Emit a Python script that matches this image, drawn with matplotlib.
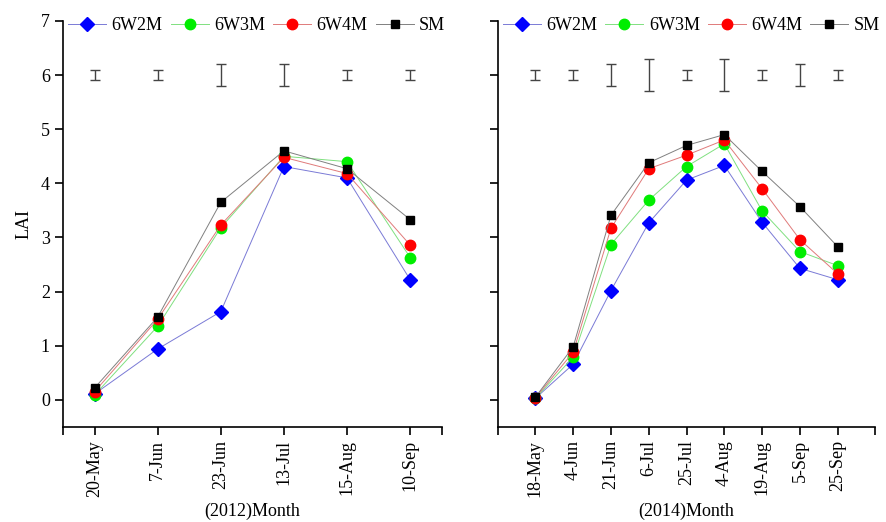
import numpy as np
import matplotlib.pyplot as plt

plt.rcParams['font.family'] = ['Liberation Serif', 'DejaVu Serif']

# 2012 season
dates_2012 = ['20-May', '7-Jun', '23-Jun', '13-Jul', '15-Aug', '10-Sep']
w2m_2012 = [0.11, 0.94, 1.63, 4.31, 4.10, 2.22]
w3m_2012 = [0.09, 1.36, 3.18, 4.50, 4.40, 2.63]
w4m_2012 = [0.15, 1.49, 3.23, 4.48, 4.18, 2.86]
sm_2012 = [0.22, 1.53, 3.65, 4.60, 4.27, 3.33]
err_2012 = [0.1, 0.1, 0.2, 0.2, 0.1, 0.1]

# 2014 season
dates_2014 = ['18-May', '4-Jun', '21-Jun', '6-Jul', '25-Jul', '4-Aug', '19-Aug', '5-Sep', '25-Sep']
w2m_2014 = [0.03, 0.66, 2.02, 3.27, 4.06, 4.33, 3.28, 2.43, 2.22]
w3m_2014 = [0.03, 0.79, 2.87, 3.69, 4.31, 4.73, 3.49, 2.74, 2.48]
w4m_2014 = [0.04, 0.88, 3.17, 4.27, 4.52, 4.80, 3.90, 2.96, 2.33]
sm_2014 = [0.05, 0.98, 3.41, 4.38, 4.70, 4.90, 4.22, 3.57, 2.83]
err_2014 = [0.1, 0.1, 0.2, 0.3, 0.1, 0.3, 0.1, 0.2, 0.1]

labels = ['6W2M', '6W3M', '6W4M', 'SM']
styles = [
    dict(color='#7a7ad6', marker='D', mfc='#0000ff', mec='#0000ff', ms=7),
    dict(color='#80e080', marker='o', mfc='#00ee00', mec='#00ee00', ms=7.5),
    dict(color='#e07a7a', marker='o', mfc='#ff0000', mec='#ff0000', ms=7.5),
    dict(color='#808080', marker='s', mfc='#000000', mec='#000000', ms=6),
]

fig = plt.figure(figsize=(8.87, 5.22), dpi=100)
ax1 = fig.add_axes([0.071, 0.182, 0.427, 0.778])
ax2 = fig.add_axes([0.561, 0.182, 0.426, 0.778])

panels = [
    (ax1, dates_2012, [w2m_2012, w3m_2012, w4m_2012, sm_2012], err_2012, '(2012)Month'),
    (ax2, dates_2014, [w2m_2014, w3m_2014, w4m_2014, sm_2014], err_2014, '(2014)Month'),
]

for ax, dates, series, err, xlab in panels:
    x = np.arange(1, len(dates) + 1)
    for vals, lab, st in zip(series, labels, styles):
        ax.plot(x, vals, lw=0.7, label=lab, **st)
    # error bar scale at y = 6
    ax.errorbar(x, [6] * len(x), yerr=err, fmt='none', ecolor='#444444',
                elinewidth=1.0, capsize=3.5, capthick=1.0)

    if len(dates) == 6:
        ax.set_xlim(0.5, len(dates) + 0.5)
        ticks = [0.5] + list(x) + [len(dates) + 0.5]
    else:
        ax.set_xlim(0, len(dates) + 1)
        ticks = [0] + list(x) + [len(dates) + 1]
    ax.set_xticks(ticks)
    ax.set_xticklabels([''] + dates + [''], rotation=90, fontsize=13)
    ax.set_ylim(-0.5, 7)
    ax.set_yticks(range(0, 8))
    ax.set_xlabel(xlab, fontsize=13, labelpad=4)

    for s in ['top', 'right']:
        ax.spines[s].set_visible(False)
    for s in ['left', 'bottom']:
        ax.spines[s].set_linewidth(1.2)
    ax.tick_params(direction='out', length=6, width=1.2, labelsize=13)

    ax.legend(loc='center left', bbox_to_anchor=(0.0, 0.988), ncol=4,
              frameon=False, fontsize=13, handlelength=2.1, handletextpad=0.3,
              columnspacing=0.45, borderaxespad=0.2, borderpad=0.1)

ax1.set_ylabel('LAI', fontsize=13, labelpad=6)
ax2.set_yticklabels([])

fig.savefig('out.png', dpi=100)
